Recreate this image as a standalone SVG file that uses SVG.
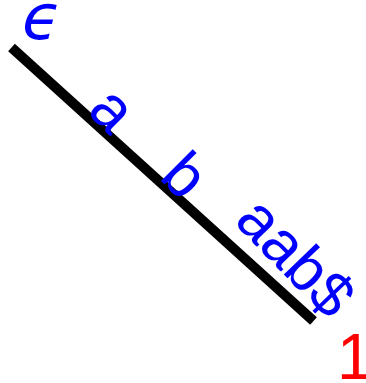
<svg xmlns="http://www.w3.org/2000/svg" width="366" height="383" viewBox="0 0 366 383">
<style>
.lbl{font-family:"Liberation Sans",Arial,sans-serif;font-size:62px;fill:#0000ff}
.red{fill:#ff0000}
</style>
<rect width="366" height="383" fill="#ffffff"/>
<g id="connectors">
<line x1="11.5" y1="47.5" x2="313.5" y2="321" stroke="#000000" stroke-width="10"/>
</g>
<g id="node-root">
<text class="lbl" transform="translate(18,39) skewX(-14)" style="font-family:'DejaVu Sans',sans-serif;font-size:63px">ϵ</text>
</g>
<g id="edge-labels">
<text class="lbl" transform="translate(86,112) rotate(45)">a</text>
<text class="lbl" transform="translate(158,178) rotate(45)">b</text>
<text class="lbl" transform="translate(233,222) rotate(46)">aab$</text>
</g>
<g id="node-leaf">
<text class="lbl red" x="337" y="378.5" style="font-size:64px">1</text>
</g>
</svg>
